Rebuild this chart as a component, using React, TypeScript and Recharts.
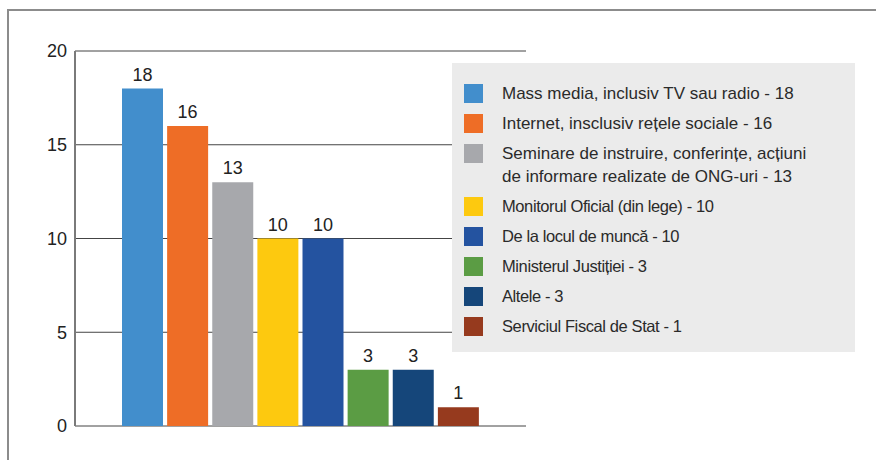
import React from 'react'
import { BarChart, Bar, XAxis, YAxis, CartesianGrid, LabelList, Cell } from 'recharts'

const categories = [
  'Mass media, inclusiv TV sau radio',
  'Internet, insclusiv rețele sociale',
  'Seminare de instruire, conferințe, acțiuni de informare realizate de ONG-uri',
  'Monitorul Oficial (din lege)',
  'De la locul de muncă',
  'Ministerul Justiției',
  'Altele',
  'Serviciul Fiscal de Stat',
]
const legendLines = [
  ['Mass media, inclusiv TV sau radio - 18'],
  ['Internet, insclusiv rețele sociale - 16'],
  ['Seminare de instruire, conferințe, acțiuni', 'de informare realizate de ONG-uri - 13'],
  ['Monitorul Oficial (din lege) - 10'],
  ['De la locul de muncă - 10'],
  ['Ministerul Justiției - 3'],
  ['Altele - 3'],
  ['Serviciul Fiscal de Stat - 1'],
]
const values = [18, 16, 13, 10, 10, 3, 3, 1]
const colors = ['#428ECC', '#EE6D26', '#A7A8AC', '#FDC90F', '#2453A0', '#5B9C44', '#15467A', '#963A1E']
const yTicks = [0, 5, 10, 15, 20]

const data = categories.map((name, i) => ({ name, value: values[i] }))

const font = '"Liberation Sans", Arial, sans-serif'

function LegendBox() {
  return (
    <div
      style={{
        position: 'absolute',
        left: 452,
        top: 63,
        background: '#ebebeb',
        width: 403,
        height: 289,
        boxSizing: 'border-box',
        paddingTop: 19,
      }}
    >
      {legendLines.map((lines, i) => (
        <div key={i} style={{ position: 'relative', paddingLeft: 50, marginBottom: 7 }}>
          <div style={{ position: 'absolute', left: 12, top: 2, width: 19, height: 19, background: colors[i] }} />
          {lines.map((t, j) => (
            <div
              key={j}
              style={{
                lineHeight: '23px',
                fontSize: i < 3 ? 17 : 16.5,
                letterSpacing: i < 3 ? 0 : -0.4,
                color: '#2a2a2a',
                fontFamily: font,
                whiteSpace: 'nowrap',
              }}
            >
              {t}
            </div>
          ))}
        </div>
      ))}
    </div>
  )
}

export default function App() {
  return (
    <div style={{ position: 'absolute', left: 0, top: 0, width: 876, height: 460, background: '#fff' }}>
      <div
        style={{
          position: 'absolute',
          left: 7,
          top: 9,
          width: 869,
          height: 451,
          borderTop: '2px solid #8c8c8c',
          borderLeft: '2px solid #8c8c8c',
          boxSizing: 'border-box',
        }}
      />
      <div style={{ position: 'absolute', left: 0, top: 0 }}>
        <BarChart width={876} height={460} data={data} margin={{ top: 51, right: 350, bottom: 34, left: 15 }}>
          <CartesianGrid vertical={false} stroke="#444" strokeWidth={1} />
          <XAxis
            dataKey="name"
            tick={false}
            tickLine={false}
            axisLine={{ stroke: '#5f5f5f', strokeWidth: 2 }}
            height={0}
            padding={{ left: 45, right: 45 }}
          />
          <YAxis
            width={60}
            domain={[0, 20]}
            ticks={yTicks}
            tickLine={false}
            tickSize={0}
            tickMargin={8}
            axisLine={{ stroke: '#7a7a7a', strokeWidth: 2 }}
            tick={{ fontSize: 18, fill: '#222', fontFamily: font }}
          />
          <Bar dataKey="value" barSize={41} isAnimationActive={false}>
            {data.map((d, i) => (
              <Cell key={d.name} fill={colors[i]} />
            ))}
            <LabelList dataKey="value" position="top" offset={8} style={{ fontSize: 18, fill: '#222', fontFamily: font }} />
          </Bar>
        </BarChart>
      </div>
      <LegendBox />
    </div>
  )
}
